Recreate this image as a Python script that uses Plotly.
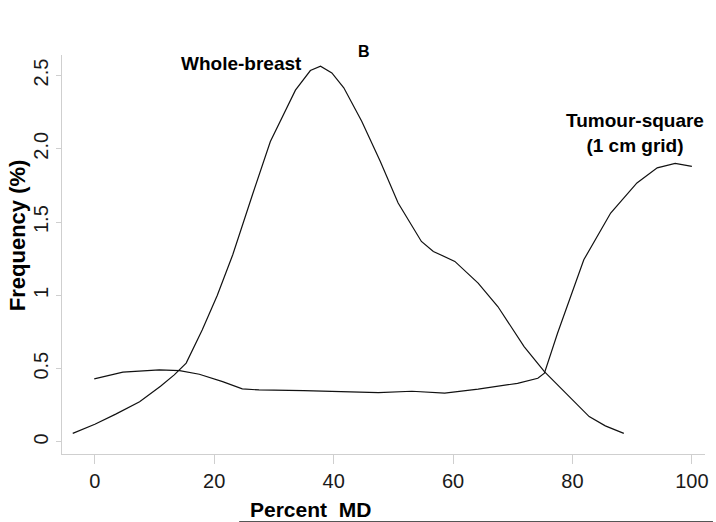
import plotly.graph_objects as go

# Whole-breast distribution
wb_x = [-3.7, 0.0, 3.5, 7.5, 11.0, 13.3, 15.3, 18.0, 20.5, 23.1, 26.4, 29.4, 33.6, 36.1, 37.8,
        39.7, 41.7, 44.7, 47.8, 50.8, 54.7, 56.7, 60.3, 64.2, 67.5, 71.9, 75.3, 79.7, 82.8, 85.5, 88.6]
wb_y = [0.059, 0.121, 0.19, 0.275, 0.38, 0.458, 0.538, 0.765, 1.0, 1.277, 1.687, 2.05, 2.40, 2.534, 2.564,
        2.518, 2.416, 2.188, 1.915, 1.63, 1.368, 1.30, 1.232, 1.084, 0.924, 0.651, 0.48, 0.298, 0.173, 0.11, 0.059]

# Tumour-square (1 cm grid) distribution
ts_x = [-0.1, 4.7, 10.8, 14.2, 17.5, 21.4, 24.7, 27.5, 35.0, 40.0, 45.0, 47.5, 53.1, 58.6, 64.2,
        70.8, 74.2, 75.3, 77.5, 78.1, 80.8, 81.9, 86.4, 90.8, 94.2, 97.2, 100.0]
ts_y = [0.43, 0.476, 0.492, 0.487, 0.462, 0.412, 0.362, 0.355, 0.35, 0.345, 0.335, 0.337, 0.346, 0.333, 0.36,
        0.40, 0.435, 0.469, 0.742, 0.81, 1.118, 1.243, 1.562, 1.767, 1.87, 1.90, 1.88]

x_ticks = [0, 20, 40, 60, 80, 100]
y_ticks = [0, 0.5, 1, 1.5, 2.0, 2.5]
y_tick_text = ["0", "0.5", "1", "1.5", "2.0", "2.5"]

L, R, T, B = 62, 708, 55, 454
W, H = 716, 522


def px(xp):
    return (xp - L) / (R - L)


def py(yp):
    return (B - yp) / (B - T)


fig = go.Figure()
fig.add_trace(go.Scatter(x=wb_x, y=wb_y, mode="lines", line=dict(color="#111", width=1.2),
                         name="Whole-breast", showlegend=False, hoverinfo="skip"))
fig.add_trace(go.Scatter(x=ts_x, y=ts_y, mode="lines", line=dict(color="#111", width=1.2),
                         name="Tumour-square", showlegend=False, hoverinfo="skip"))

FONT = "Liberation Sans, Arial, sans-serif"
tickfont = dict(family=FONT, size=20, color="#1a1a1a")
boldfont = dict(family=FONT, size=19, color="#000")

fig.update_layout(
    width=W, height=H,
    margin=dict(l=L, r=W - R, t=T, b=H - B),
    paper_bgcolor="white", plot_bgcolor="white",
    showlegend=False,
    xaxis=dict(range=[-5.5, 102.2], tickvals=x_ticks, ticktext=[str(v) for v in x_ticks],
               showgrid=False, zeroline=False, showline=True, linecolor="#cfcfcf", linewidth=1,
               ticks="outside", ticklen=9, tickcolor="#cfcfcf", tickfont=tickfont),
    yaxis=dict(range=[-0.082, 2.64], tickvals=y_ticks, ticktext=y_tick_text, tickangle=-90,
               showgrid=False, zeroline=False, showline=True, linecolor="#cfcfcf", linewidth=1,
               ticks="outside", ticklen=5, tickcolor="#cfcfcf", tickfont=tickfont),
    annotations=[
        dict(text="<b>B</b>", xref="paper", yref="paper", x=px(365), y=py(52), showarrow=False,
             font=dict(family=FONT, size=16, color="#000"),
             xanchor="center", yanchor="middle"),
        dict(text="<b>Whole-breast</b>", xref="paper", yref="paper", x=px(242.5), y=py(63.5),
             showarrow=False, font=boldfont, xanchor="center", yanchor="middle"),
        dict(text="<b>Tumour-square<br>(1 cm grid)</b>", xref="paper", yref="paper", x=px(638),
             y=py(133), showarrow=False, font=boldfont, xanchor="center", yanchor="middle",
             align="center"),
        dict(text="<b>Frequency (%)</b>", xref="paper", yref="paper", x=px(17), y=py(235),
             showarrow=False, textangle=-90,
             font=dict(family=FONT, size=22, color="#000"),
             xanchor="center", yanchor="middle"),
        dict(text="<b>Percent  MD</b>", xref="paper", yref="paper", x=px(312), y=py(521.5),
             showarrow=False, borderpad=0,
             font=dict(family=FONT, size=21, color="#000"),
             xanchor="center", yanchor="bottom"),
    ],
    shapes=[
        dict(type="line", xref="paper", yref="paper", x0=px(240), x1=px(716),
             y0=py(521.5), y1=py(521.5), line=dict(color="#555", width=1)),
    ],
)

fig.write_html("out.html", config={"displayModeBar": False},
               post_script="document.body.style.margin='0px';")
